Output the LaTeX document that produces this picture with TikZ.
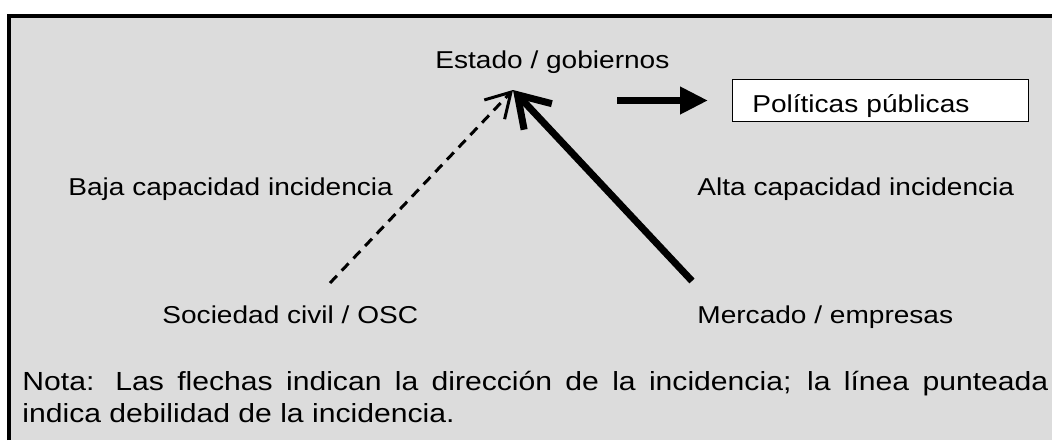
\documentclass[tikz,border=0pt]{standalone}
\usepackage{fontspec}
\setmainfont[FakeStretch=1.15]{Liberation Sans}
\usetikzlibrary{arrows.meta}
\definecolor{fondo}{HTML}{DCDCDC}

\begin{document}
\begin{tikzpicture}[x=0.5pt,y=-0.5pt,
    lbl/.style={anchor=base west,inner sep=0pt,font=\fontsize{12.2}{15}\selectfont},
    fuerte/.style={line width=3.5pt,-{Straight Barb[length=15pt,width=19pt]}},
    debil/.style={line width=1.5pt,dash pattern=on 5pt off 3.5pt,-{Straight Barb[length=12pt,width=14pt]}},
    flecha/.style={line width=3.5pt,-{Triangle[length=14pt,width=13pt]}}]
    \useasboundingbox (0,0) rectangle (1052,440);
    % fondo y marco
    \fill[fondo] (9,16) rectangle (1052,440);
    \draw[line width=1.75pt] (9,440) -- (9,16) -- (1052,16);
    % actores
    \node[lbl] (estado) at (435,68) {Estado / gobiernos};
    \node[lbl] (baja) at (68,195) {Baja capacidad incidencia};
    \node[lbl] (alta) at (697,195) {Alta capacidad incidencia};
    \node[lbl] (osc) at (162,323) {Sociedad civil / OSC};
    \node[lbl] (mercado) at (697,323) {Mercado / empresas};
    \node[draw,fill=white,line width=0.8pt,anchor=west,inner ysep=0pt,inner xsep=10pt,
      text width=128pt,text height=16.6pt,text depth=4.4pt,
      font=\fontsize{12.2}{15}\selectfont] (politicas) at (731.5,100.5) {Políticas públicas};
    % flechas
    \coordinate (cima) at (513,90);
    \coordinate (pieS) at (330,283);
    \coordinate (pieM) at (692,281);
    \coordinate (salida) at (617,100.5);
    \draw[debil] (pieS) -- (cima);
    \draw[fuerte] (pieM) -- (cima);
    \draw[flecha,shorten >=11.75pt] (salida) -- (politicas.west);
    % nota
    \node[anchor=base west,inner sep=0pt,text width=513pt,align=justify,
      font=\fontsize{13.1}{16}\selectfont] (nota) at (22,390)
      {\tolerance=10000 \hyphenpenalty=10000 Nota: Las flechas indican la dirección de la incidencia; la línea punteada\linebreak indica debilidad de la incidencia.};
  \end{tikzpicture}
\end{document}
